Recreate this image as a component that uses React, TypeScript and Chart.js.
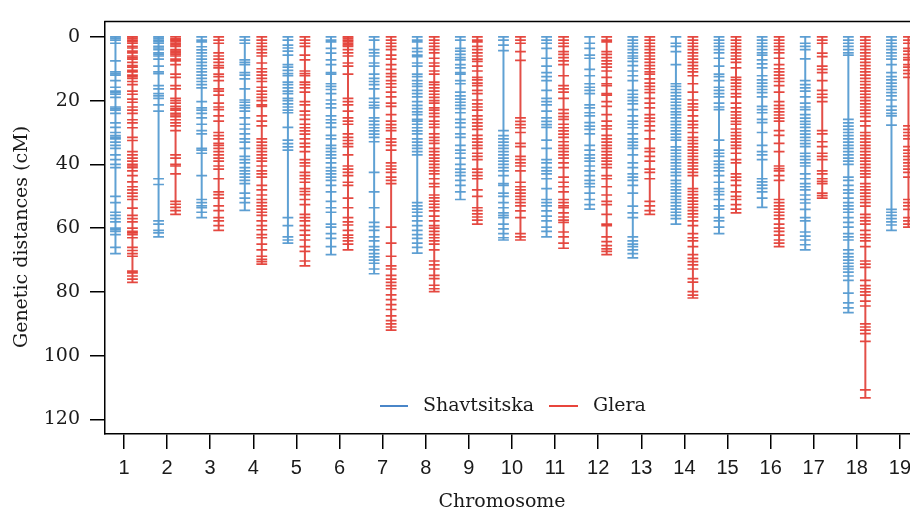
import { useEffect, useRef } from 'react';
import { Chart, registerables } from 'chart.js';

Chart.register(...registerables);

const chromosomes = [1, 2, 3, 4, 5, 6, 7, 8, 9, 10, 11, 12, 13, 14, 15, 16, 17, 18, 19];
const yTickValues = [0, 20, 40, 60, 80, 100, 120];
const seriesNames = ['Shavtsitska', 'Glera'];
const xTitle = 'Chromosome';
const yTitle = 'Genetic distances (cM)';

// marker positions (cM) per chromosome, Shavtsitska map
const shavtsitska: number[][] = [
  [0, 0.5, 1, 2, 7.5, 11, 11.5, 12, 13.7, 15.8, 17, 17.5, 18, 19, 22, 22.5, 23, 24, 27, 28.4, 30, 31, 31.5, 32, 33, 34, 35, 37, 38.5, 40, 41, 50, 52, 55, 56, 57, 58, 60, 60.5, 61, 62, 66, 68],
  [0, 0.5, 1, 1.5, 2, 3, 3.5, 4, 5, 5.5, 6, 7, 9.2, 11, 11.5, 15.3, 16.3, 17.8, 18.5, 19.3, 21.3, 23.3, 44.5, 46.3, 57.7, 58.7, 60.7, 61.5, 62.7],
  [0, 1, 1.6, 3.1, 4.1, 5, 6, 7, 8, 9, 10, 11, 12, 13, 14, 15, 16, 20.3, 22.3, 23, 24, 25.4, 27.4, 29.4, 30.4, 35, 35.5, 36.5, 43.5, 51, 52, 53, 53.6, 55, 56.7],
  [0, 1, 2, 7.2, 8, 8.7, 11.2, 12, 13.2, 16.3, 19.8, 20.5, 21.5, 22.3, 23.3, 25.4, 27.4, 28.9, 30.4, 32, 33, 35, 37.5, 38.5, 39.5, 41, 42, 43, 44, 45, 46, 49, 50.6, 52, 54.4],
  [0, 1, 2.6, 3.5, 4.5, 5.7, 8.7, 9.5, 10.5, 11.5, 12.2, 14.2, 15, 16, 17, 17.8, 19.3, 20, 21, 22, 23, 23.8, 28.4, 32.4, 33.5, 34.5, 35.5, 56.7, 59.2, 62.7, 63.7, 64.7],
  [0, 1, 1.6, 3.6, 5.1, 7.2, 8.7, 11.2, 11.7, 14.7, 15.5, 16.5, 17.8, 19.8, 21, 22.3, 24.8, 26, 27, 28.4, 30.9, 32, 34, 35, 36, 37, 38, 39.5, 41, 42, 43, 44, 45, 46.6, 48.6, 51.6, 53.6, 55, 58.7, 59.7, 61.7, 63.2, 65.8, 68.3],
  [0, 1, 4, 5, 6, 8.2, 9.2, 11.7, 13, 14, 15, 16.3, 19.3, 20.5, 21.5, 22.3, 25.4, 26.4, 27.5, 28.5, 29.5, 30.5, 31.5, 32.9, 42.5, 48.6, 53.6, 58.2, 59.5, 60.7, 62.7, 64, 65.8, 66.8, 68, 69, 70, 71, 72.8, 74.3],
  [0, 1, 1.6, 3.6, 4.6, 5.7, 6.2, 8.2, 9.2, 11.7, 12.5, 13.7, 14.7, 15.5, 16.8, 17.8, 18.8, 20.3, 21.5, 22.5, 23.5, 24.4, 25.9, 26.4, 27.4, 28.5, 29.5, 30.4, 32, 33, 34, 35, 36, 37, 52, 53, 54, 55, 56.2, 57.7, 59.2, 60.7, 62, 63.2, 64.7, 66, 67.8],
  [0, 1, 3.6, 4.5, 5.5, 6.5, 7.2, 8.7, 9.7, 11.2, 11.7, 13.7, 14.7, 17.3, 18.5, 19.5, 20.5, 21.5, 22.5, 23.8, 25.9, 27, 28.4, 30.4, 31.5, 34, 35.5, 36.5, 38, 40, 41.5, 42.5, 43.5, 45, 46.6, 48.6, 51],
  [0, 1, 2.6, 4.3, 29.4, 31, 32, 33, 34, 35, 36, 37, 38, 39, 40, 41, 42, 43.5, 46, 46.6, 49, 50, 52, 53.6, 55.2, 56, 56.7, 58.7, 60.2, 61.7, 63, 63.7],
  [0, 1, 2, 3.6, 6.7, 9.2, 11.2, 12.5, 13.7, 16.8, 19.3, 20.3, 21.3, 23.3, 25.4, 26.5, 27.5, 28.4, 32.4, 35, 38.5, 39.5, 41, 42, 43, 44.5, 47.6, 51, 52, 53, 54.6, 56.2, 57.7, 59.7, 61, 62.7],
  [0, 2, 3.6, 5.7, 6.7, 10.2, 12.2, 14.7, 15.8, 16.8, 17.8, 21.3, 22.3, 23.8, 24.8, 26.9, 28, 29, 30.4, 34, 35.5, 37, 38, 39, 40.5, 42, 43.5, 45, 46, 47, 49, 51, 52.6, 54],
  [0, 1, 2, 3, 4, 5, 6, 6.7, 7.7, 9, 10.7, 12.2, 13.7, 16.8, 18, 19, 20, 21, 22.8, 24.8, 26.4, 27.4, 28.5, 30.4, 32, 33, 34, 35, 37, 39.5, 41, 43, 44, 45, 46.6, 49, 53.1, 55.2, 56.7, 62.7, 64, 65, 65.8, 66.8, 68, 69.3],
  [0, 2, 3, 4.6, 8.7, 14.7, 15.5, 16.5, 17.5, 18.5, 19.5, 20.5, 21.5, 22.5, 23.5, 24.4, 25.4, 26.5, 27.5, 28.5, 29.5, 30.5, 31.5, 32.4, 34.5, 35.5, 36.5, 37.5, 38.5, 39.5, 40.5, 41.5, 42.5, 43.5, 45, 46, 47, 48, 49, 50, 51, 52, 53, 54, 55, 56, 57, 58.7],
  [0, 1, 2, 3, 4, 5, 6.7, 9.2, 11.7, 12.5, 13.7, 15.8, 16.8, 17.8, 18.8, 20.8, 22, 22.8, 32.4, 35.5, 36.5, 37.5, 39, 40, 41, 42, 43.5, 45.6, 47.6, 48.5, 49.5, 51, 53, 54, 56.7, 57.7, 59.7, 61.7],
  [0, 1, 2, 3, 4, 5, 5.7, 7.2, 8.5, 9.7, 12.2, 13.5, 14.5, 15.5, 16.5, 17.5, 18.8, 21.8, 22.8, 23.8, 25.9, 26.9, 30, 34, 36, 37, 38.5, 44.5, 45.5, 46.5, 47.5, 48.6, 50.6, 53.5],
  [0, 2, 3, 4, 6.9, 13.7, 15, 16, 17, 18.8, 20.8, 22, 22.8, 24.4, 25.5, 26.5, 27.4, 28.4, 29.5, 30.5, 31.5, 32.5, 33.5, 34.4, 36.5, 37.5, 38.5, 39.5, 40.5, 43, 44.5, 46, 47, 48, 49.6, 51, 52.1, 54.1, 56.7, 57.7, 61.2, 62.5, 63.7, 65.2, 66.8],
  [0, 1, 2, 3, 4, 5, 5.7, 25.9, 27, 28, 29, 30, 31, 32, 33, 34, 35, 36, 37, 38, 39, 40, 44, 45, 46.6, 48, 49, 50.6, 52, 53, 54, 55, 56.7, 58.2, 59.7, 61.7, 62.7, 63.7, 66.8, 68, 69, 70, 71, 72, 72.8, 73.8, 75, 76.4, 80.4, 83.4, 85, 86.5],
  [0, 1, 2, 3, 4, 5, 6, 7, 8.7, 11.2, 12.5, 13.5, 14.5, 15.5, 16.5, 17.5, 18.5, 19.8, 21.8, 23, 24, 24.8, 27.7, 54.1, 55, 56, 57, 58, 59, 60.7],
];

// marker positions (cM) per chromosome, Glera map
const glera: number[][] = [
  [0, 0.5, 1, 1.5, 2, 3, 3.5, 4.5, 5, 6, 6.5, 7, 8, 9, 9.5, 10.5, 11, 12, 12.5, 13, 14, 15, 17, 18, 19.5, 20.5, 22, 23, 24, 26, 27, 28.5, 31.5, 32.5, 36, 37, 38, 39, 40, 40.5, 41, 42, 43.5, 45.5, 47, 48, 49, 50, 51, 53.7, 56, 57, 58, 60, 61, 61.5, 62, 63, 66, 67, 68, 68.8, 73.5, 74, 75, 76, 77],
  [0, 0.6, 1, 1.5, 2, 2.5, 3, 4, 4.5, 5, 5.5, 6, 7, 7.5, 8.7, 11.7, 12.7, 15.3, 16.3, 19.3, 20, 20.8, 21.8, 22.5, 23, 24, 24.5, 25, 26, 27, 27.9, 29.4, 37, 38, 40, 40.5, 43, 51.6, 52.5, 53.5, 54.5, 55.7],
  [0, 1, 2, 5, 6, 7, 8, 9, 9.7, 11.7, 12.5, 13.7, 16.3, 17, 18.3, 20.8, 22, 22.8, 24.8, 26.4, 30, 31, 32, 33.4, 34, 35, 36, 37, 38, 39, 40.5, 41.5, 44.5, 48.6, 49.5, 50.6, 53, 54.5, 56.7, 57.7, 59.2, 60.7],
  [0, 1, 2, 3, 4, 5, 6, 8.2, 10, 11, 12, 13, 14, 15.8, 17, 18, 19, 20, 21.3, 21.8, 24.8, 26.4, 27.9, 32, 33, 34, 35, 36, 37, 38, 39, 40.5, 42, 43, 44, 46.6, 48, 49.6, 51, 52, 53, 54, 55, 56, 57.7, 59.2, 60.5, 62, 63, 65, 66.8, 68.8, 69.8, 70.5, 71.3],
  [0, 1, 2, 3, 5.7, 7.2, 10.7, 11.5, 12.2, 14.2, 15, 16, 17.3, 20.3, 21.3, 23.3, 24.5, 25.9, 27.4, 28.5, 29.5, 30.5, 32, 33.4, 34.5, 36, 38.5, 39.5, 40.5, 42.5, 43.5, 44.5, 45.6, 47.6, 48.5, 49.5, 51, 52.6, 55.7, 56.7, 57.7, 59.2, 60.7, 62.2, 63.7, 65.8, 67.3, 70.3, 71.8],
  [0, 0.5, 1, 1.5, 2, 2.5, 3, 4, 5, 6, 8.2, 9.2, 11.7, 19.3, 20.3, 21.3, 23.3, 25.4, 26.4, 27.4, 30.4, 31.5, 32.5, 33.5, 34.4, 37, 40.5, 41.5, 42.5, 43.5, 45.6, 46.6, 50.6, 53.6, 56.7, 58, 59, 60.7, 62.2, 63, 64, 65, 66.8],
  [0, 1, 2, 3, 4, 5.7, 7, 8.7, 10.2, 11.5, 12.5, 13.7, 14.7, 15.8, 17.3, 18.8, 20.8, 21.8, 24.4, 26.4, 27.5, 28.5, 29.4, 32, 33, 34, 35.5, 39.5, 40.5, 41.5, 42.5, 44, 45, 46, 59.7, 64.7, 68.8, 71.8, 72.8, 74.8, 76, 77, 78, 79, 80.9, 82.4, 84, 85.5, 87.5, 89, 90, 91, 92],
  [0, 1, 2, 3, 4, 5, 6.7, 8.2, 9.2, 10.7, 11.7, 14.2, 15, 16, 17, 18, 19, 20, 20.8, 22.3, 23, 24, 25, 26.4, 27.4, 28.4, 30.4, 31.5, 32.5, 33.4, 35, 36, 37, 38, 39, 40, 41, 42, 43, 44.5, 46, 47, 49.6, 50.5, 51.5, 52.5, 53.5, 54.6, 56.2, 57.7, 59.2, 60, 61, 62, 63, 64, 65, 66.8, 70.3, 71.5, 72.8, 74.8, 75.8, 77.9, 79, 79.9],
  [0, 1, 1.6, 3, 4, 5, 6, 7, 7.7, 9.2, 10.7, 12.7, 13.5, 14.5, 15.3, 16.8, 17.8, 19.8, 21, 22, 23, 24.8, 25.9, 27, 28, 29, 30.9, 32, 33, 34, 35, 36.5, 37.5, 38.5, 41.5, 42.5, 43.5, 44.5, 48, 50, 53.6, 54.5, 55.5, 56.5, 57.5, 58.7],
  [0, 1, 2, 4.6, 7.4, 25.4, 26.5, 27.5, 28.5, 30, 33.4, 34.4, 37.5, 38.5, 39.5, 40.5, 42, 45.6, 47, 48, 49, 50, 51, 52, 53, 54.6, 56.7, 61.7, 62.7, 63.7],
  [0, 1, 2, 3, 4.6, 5.5, 6.5, 7.5, 8.7, 12.2, 15.3, 16.3, 17.3, 19.3, 22.8, 24, 25, 25.9, 27.4, 28.5, 29.5, 30.5, 31.5, 32.9, 34, 35, 36, 37, 38, 39.5, 41, 44, 45.6, 47, 48.6, 51, 52, 53, 53.6, 55.2, 56.5, 57.5, 58.2, 61.2, 62.7, 64.7, 66.3],
  [0, 1, 1.6, 4.6, 5.5, 6.5, 7.5, 8.5, 9.5, 10.7, 12.7, 14.7, 15.3, 17.8, 18.3, 20.3, 21.8, 24.4, 26.4, 27.9, 28.9, 30.9, 32, 33, 34, 35, 36, 37, 38, 39, 40, 41, 43.5, 44.5, 47, 49.6, 51.6, 52.6, 55.7, 58.7, 59.2, 62.7, 64.2, 65.5, 66.5, 67.3, 68.3],
  [0, 1, 2, 3, 4, 5, 6, 7, 8, 9, 10, 11, 11.7, 13.2, 14.5, 15.5, 16.5, 17.5, 19.3, 20.8, 22.3, 24.4, 25.5, 26.5, 27.9, 29.4, 32, 35, 36, 37.5, 39, 41.5, 42.5, 44.5, 51.6, 53, 54.5, 55.7],
  [0, 1, 2, 3, 4, 5, 6, 7, 8, 9, 10, 11, 12.2, 14.7, 17.3, 19.8, 21, 22, 23, 24.8, 26.4, 27.5, 28.5, 30, 31.5, 32.5, 33.5, 34.5, 35.5, 36.5, 37.5, 38.5, 39.5, 40.5, 41.5, 42.5, 43.5, 47.6, 48.5, 49.5, 50.5, 51.5, 52.5, 53.5, 54.5, 55.5, 56.5, 57.7, 59.2, 61.7, 63, 64, 65.8, 68.3, 69.5, 70.5, 71.5, 72.8, 75.8, 76.9, 79.9, 81, 81.9],
  [0, 1, 2, 3, 4, 5, 6, 7, 8, 9.7, 12.7, 13.5, 14.5, 15.5, 16.5, 17.8, 18.8, 20.8, 22.3, 23.5, 24.5, 25.5, 26.5, 27.4, 28.9, 30, 31, 32, 33, 34, 35, 36.5, 38.5, 39.5, 43, 44, 45, 46.6, 48.6, 50, 51, 52.6, 54, 55.2],
  [0, 1, 2, 3, 4, 5, 6.7, 8.7, 10, 11, 12, 13, 14, 15.3, 17.3, 20.3, 21.5, 22.5, 23.5, 24.5, 25.5, 26.4, 29.4, 30.9, 33.4, 36, 40.5, 41.3, 42, 43.5, 45, 51, 52, 53, 54, 55, 56, 57.1, 58.7, 60, 61, 62.2, 63.7, 64.7, 65.8],
  [0, 1, 2, 5.1, 6.2, 9.2, 10.2, 11.2, 13.7, 16.8, 18, 19, 20.3, 29.4, 30.4, 32.9, 34.4, 36.5, 37.5, 38.5, 42, 43, 44.5, 45.3, 46, 49, 49.8, 50.6],
  [0, 1, 2, 3, 4, 5, 6, 7, 8, 9, 10, 11, 12, 13, 14, 15, 16, 17, 18, 19, 20, 21, 22, 23, 24, 25, 26.4, 27.9, 30, 31, 32, 33, 34, 35, 36, 37, 38, 39, 40, 41, 42, 43, 44, 46, 47, 48, 49, 50, 51, 52, 53.1, 55.7, 56.7, 57.7, 58.7, 60.7, 62, 63, 64, 65.8, 70.3, 71.3, 72.3, 76.4, 78, 79, 80, 81, 82.9, 84.4, 90, 91, 92, 93.1, 95.5, 110.7, 113.2],
  [0, 1, 2, 3.6, 4.5, 5.5, 6.5, 7.2, 8.7, 9.5, 10.5, 11.5, 12.7, 27.9, 29, 30, 31, 32, 34.4, 35.5, 36.5, 37.5, 38.5, 39.5, 40.5, 41.5, 42.5, 44, 51, 52, 53, 54.1, 56.7, 57.7, 58.7, 59.7],
];

const BLUE = 'rgba(66,142,202,0.85)';
const RED = 'rgba(224,40,30,0.85)';
const BLUE_SPINE = 'rgba(86,156,210,0.95)';
const RED_SPINE = 'rgba(226,70,62,0.95)';
const LEG_BLUE = '#4a86c8';
const LEG_RED = '#e8453c';
const OFFSET = 0.197;

const SERIF = '"DejaVu Serif", serif';
const SANS = 'Liberation Sans, Arimo, Roboto, Arial, sans-serif';

function spineData(maps: number[][], off: number) {
  const pts: { x: number; y: number | null }[] = [];
  maps.forEach((arr, i) => {
    const x = chromosomes[i] + off;
    pts.push({ x, y: Math.min(...arr) });
    pts.push({ x, y: Math.max(...arr) });
    pts.push({ x, y: null });
  });
  return pts;
}

function markerData(maps: number[][], off: number) {
  const pts: { x: number; y: number }[] = [];
  maps.forEach((arr, i) => {
    arr.forEach((v) => pts.push({ x: chromosomes[i] + off, y: v }));
  });
  return pts;
}

const overlayPlugin = {
  id: 'overlay',
  afterDraw(chart: any) {
    const { ctx, chartArea } = chart;
    ctx.save();
    ctx.strokeStyle = '#000';
    ctx.lineWidth = 1.5;
    ctx.beginPath();
    ctx.moveTo(chartArea.left - 0.75, chartArea.top);
    ctx.lineTo(chart.width, chartArea.top);
    ctx.stroke();

    ctx.fillStyle = '#1a1a1a';
    ctx.font = '19px ' + SERIF;
    ctx.textAlign = 'center';
    ctx.textBaseline = 'middle';
    ctx.fillText(xTitle, 502, 502);

    ctx.save();
    ctx.translate(22, 237);
    ctx.rotate(-Math.PI / 2);
    ctx.fillText(yTitle, 0, 0);
    ctx.restore();

    const ly = 406;
    ctx.lineWidth = 2;
    ctx.strokeStyle = LEG_BLUE;
    ctx.beginPath();
    ctx.moveTo(380, ly);
    ctx.lineTo(408, ly);
    ctx.stroke();
    ctx.strokeStyle = LEG_RED;
    ctx.beginPath();
    ctx.moveTo(549, ly);
    ctx.lineTo(578, ly);
    ctx.stroke();
    ctx.textAlign = 'left';
    ctx.fillStyle = '#1a1a1a';
    ctx.fillText(seriesNames[0], 423, ly);
    ctx.fillText(seriesNames[1], 593, ly);
    ctx.restore();
  },
};

export default function App() {
  const ref = useRef<HTMLCanvasElement | null>(null);

  useEffect(() => {
    if (!ref.current) return;
    const chart = new Chart(ref.current, {
      type: 'scatter',
      data: {
        datasets: [
          {
            type: 'line',
            label: seriesNames[0] + ' spine',
            data: spineData(shavtsitska, -OFFSET),
            borderColor: BLUE_SPINE,
            borderWidth: 2,
            pointRadius: 0,
            spanGaps: false,
            showLine: true,
            fill: false,
          } as any,
          {
            type: 'line',
            label: seriesNames[1] + ' spine',
            data: spineData(glera, OFFSET),
            borderColor: RED_SPINE,
            borderWidth: 2,
            pointRadius: 0,
            spanGaps: false,
            showLine: true,
            fill: false,
          } as any,
          {
            label: seriesNames[0],
            data: markerData(shavtsitska, -OFFSET),
            pointStyle: 'line',
            pointRadius: 5.4,
            pointBorderWidth: 1.7,
            pointBorderColor: BLUE,
            pointBackgroundColor: BLUE,
            showLine: false,
          } as any,
          {
            label: seriesNames[1],
            data: markerData(glera, OFFSET),
            pointStyle: 'line',
            pointRadius: 5.4,
            pointBorderWidth: 1.7,
            pointBorderColor: RED,
            pointBackgroundColor: RED,
            showLine: false,
          } as any,
        ],
      },
      options: {
        animation: false,
        responsive: false,
        devicePixelRatio: 1,
        events: [],
        layout: { padding: { top: 7, right: 5, left: 0, bottom: 0 } },
        plugins: {
          legend: { display: false },
          tooltip: { enabled: false },
        },
        scales: {
          x: {
            type: 'linear',
            min: 0.5602,
            max: 19.532,
            afterBuildTicks: (s: any) => {
              s.ticks = chromosomes.map((v) => ({ value: v }));
            },
            afterFit: (s: any) => {
              s.height = 82;
            },
            grid: {
              drawOnChartArea: false,
              drawTicks: true,
              tickLength: 15,
              color: '#000',
              lineWidth: 1.5,
            },
            border: { display: true, color: '#000', width: 1.5 },
            ticks: {
              autoSkip: false,
              maxRotation: 0,
              color: '#1a1a1a',
              padding: 7,
              font: { family: SANS, size: 20 },
              callback: (v: any) => String(v),
            },
          },
          y: {
            type: 'linear',
            reverse: true,
            min: -4.85,
            max: 124.55,
            afterBuildTicks: (s: any) => {
              s.ticks = yTickValues.map((v) => ({ value: v }));
            },
            afterFit: (s: any) => {
              s.width = 105;
            },
            grid: {
              drawOnChartArea: false,
              drawTicks: true,
              tickLength: 15,
              color: '#000',
              lineWidth: 1.5,
            },
            border: { display: true, color: '#000', width: 1.5 },
            ticks: {
              color: '#1a1a1a',
              padding: 10,
              font: { family: SERIF, size: 19 },
              callback: (v: any) => String(v),
            },
          },
        },
      },
      plugins: [overlayPlugin],
    });
    return () => chart.destroy();
  }, []);

  return (
    <div
      style={{
        position: 'fixed',
        left: 0,
        top: 0,
        width: 910,
        height: 516,
        overflow: 'hidden',
        background: '#fff',
      }}
    >
      <canvas ref={ref} width={930} height={516} style={{ width: 930, height: 516, display: 'block' }} />
    </div>
  );
}
